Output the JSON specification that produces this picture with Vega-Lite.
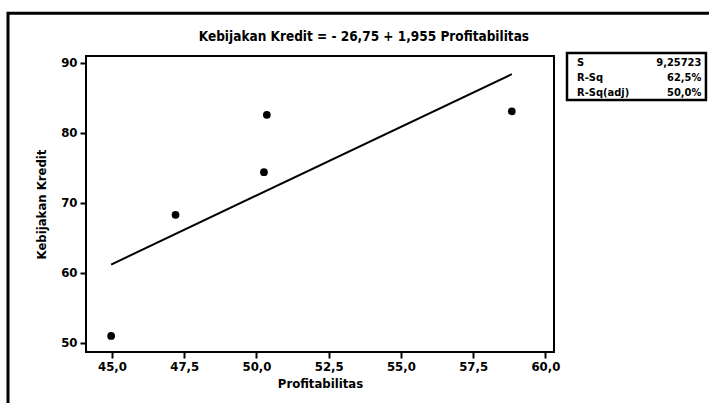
{
  "$schema": "https://vega.github.io/schema/vega-lite/v6.json",
  "width": 468,
  "height": 296,
  "autosize": {"type": "none"},
  "padding": {"left": 86, "top": 56, "right": 155, "bottom": 51},
  "background": "white",
  "config": {
    "view": {"stroke": "black", "strokeWidth": 2},
    "font": "DejaVu Sans Condensed",
    "axis": {
      "grid": false,
      "domain": false,
      "tickColor": "black",
      "tickWidth": 2,
      "tickSize": 6,
      "labelColor": "black",
      "labelFont": "DejaVu Sans Condensed",
      "labelFontWeight": "bold",
      "labelFontSize": 13,
      "titleColor": "black",
      "titleFont": "DejaVu Sans Condensed",
      "titleFontWeight": "bold",
      "titleFontSize": 13
    }
  },
  "datasets": {
    "obs": [
      {"Profitabilitas": 44.97, "Kebijakan Kredit": 51.0},
      {"Profitabilitas": 47.2, "Kebijakan Kredit": 68.3},
      {"Profitabilitas": 50.26, "Kebijakan Kredit": 74.4},
      {"Profitabilitas": 50.36, "Kebijakan Kredit": 82.6},
      {"Profitabilitas": 58.84, "Kebijakan Kredit": 83.1}
    ],
    "fit": [
      {"Profitabilitas": 44.97, "Kebijakan Kredit": 61.2},
      {"Profitabilitas": 58.84, "Kebijakan Kredit": 88.4}
    ],
    "stats": [
      {"row": 1, "label": "S", "value": "9,25723"},
      {"row": 2, "label": "R-Sq", "value": "62,5%"},
      {"row": 3, "label": "R-Sq(adj)", "value": "50,0%"}
    ],
    "heading": [{"title": "Kebijakan Kredit =  - 26,75 + 1,955 Profitabilitas"}],
    "one": [{"item": "box"}]
  },
  "layer": [
    {
      "data": {"name": "one"},
      "mark": {"type": "rect", "filled": false, "stroke": "black", "strokeWidth": 3, "clip": false},
      "encoding": {
        "x": {"datum": 41.4, "type": "quantitative"},
        "x2": {"datum": 67},
        "y": {"datum": 97.1, "type": "quantitative"},
        "y2": {"datum": 38}
      }
    },
    {
      "data": {"name": "heading"},
      "mark": {"type": "text", "align": "center", "baseline": "middle", "fontWeight": "bold", "fontSize": 13.5, "color": "black", "clip": false},
      "encoding": {
        "x": {"datum": 53.72, "type": "quantitative"},
        "y": {"datum": 93.7, "type": "quantitative"},
        "text": {"field": "title"}
      }
    },
    {
      "data": {"name": "obs"},
      "mark": {"type": "point", "filled": true, "color": "black", "size": 60, "opacity": 1},
      "encoding": {
        "x": {
          "field": "Profitabilitas",
          "type": "quantitative",
          "scale": {"domain": [44.1, 60.3], "nice": false, "zero": false},
          "axis": {
            "values": [45, 47.5, 50, 52.5, 55, 57.5, 60],
            "labelExpr": "replace(format(datum.value, '.1f'), '.', ',')",
            "title": "Profitabilitas",
            "labelPadding": 2,
            "titlePadding": 4
          }
        },
        "y": {
          "field": "Kebijakan Kredit",
          "type": "quantitative",
          "scale": {"domain": [48.7, 91], "nice": false, "zero": false},
          "axis": {
            "values": [50, 60, 70, 80, 90],
            "title": "Kebijakan Kredit",
            "labelPadding": 3,
            "titlePadding": 12
          }
        }
      }
    },
    {
      "data": {"name": "fit"},
      "mark": {"type": "line", "color": "black", "strokeWidth": 2},
      "encoding": {
        "x": {"field": "Profitabilitas", "type": "quantitative"},
        "y": {"field": "Kebijakan Kredit", "type": "quantitative"}
      }
    },
    {
      "data": {"name": "one"},
      "mark": {"type": "rect", "filled": false, "stroke": "black", "strokeWidth": 2.5, "clip": false},
      "encoding": {
        "x": {"datum": 60.75, "type": "quantitative"},
        "x2": {"datum": 65.56},
        "y": {"datum": 91.43, "type": "quantitative"},
        "y2": {"datum": 84.71}
      }
    },
    {
      "data": {"name": "stats"},
      "transform": [{"filter": "datum.row == 1"}],
      "mark": {"type": "text", "align": "left", "baseline": "middle", "fontWeight": "bold", "fontSize": 11, "color": "black", "clip": false},
      "encoding": {"x": {"datum": 61.1, "type": "quantitative"}, "y": {"datum": 90.0, "type": "quantitative"}, "text": {"field": "label"}}
    },
    {
      "data": {"name": "stats"},
      "transform": [{"filter": "datum.row == 1"}],
      "mark": {"type": "text", "align": "right", "baseline": "middle", "fontWeight": "bold", "fontSize": 11, "color": "black", "clip": false},
      "encoding": {"x": {"datum": 65.4, "type": "quantitative"}, "y": {"datum": 90.0, "type": "quantitative"}, "text": {"field": "value"}}
    },
    {
      "data": {"name": "stats"},
      "transform": [{"filter": "datum.row == 2"}],
      "mark": {"type": "text", "align": "left", "baseline": "middle", "fontWeight": "bold", "fontSize": 11, "color": "black", "clip": false},
      "encoding": {"x": {"datum": 61.1, "type": "quantitative"}, "y": {"datum": 87.9, "type": "quantitative"}, "text": {"field": "label"}}
    },
    {
      "data": {"name": "stats"},
      "transform": [{"filter": "datum.row == 2"}],
      "mark": {"type": "text", "align": "right", "baseline": "middle", "fontWeight": "bold", "fontSize": 11, "color": "black", "clip": false},
      "encoding": {"x": {"datum": 65.4, "type": "quantitative"}, "y": {"datum": 87.9, "type": "quantitative"}, "text": {"field": "value"}}
    },
    {
      "data": {"name": "stats"},
      "transform": [{"filter": "datum.row == 3"}],
      "mark": {"type": "text", "align": "left", "baseline": "middle", "fontWeight": "bold", "fontSize": 11, "color": "black", "clip": false},
      "encoding": {"x": {"datum": 61.1, "type": "quantitative"}, "y": {"datum": 85.75, "type": "quantitative"}, "text": {"field": "label"}}
    },
    {
      "data": {"name": "stats"},
      "transform": [{"filter": "datum.row == 3"}],
      "mark": {"type": "text", "align": "right", "baseline": "middle", "fontWeight": "bold", "fontSize": 11, "color": "black", "clip": false},
      "encoding": {"x": {"datum": 65.4, "type": "quantitative"}, "y": {"datum": 85.75, "type": "quantitative"}, "text": {"field": "value"}}
    }
  ]
}
